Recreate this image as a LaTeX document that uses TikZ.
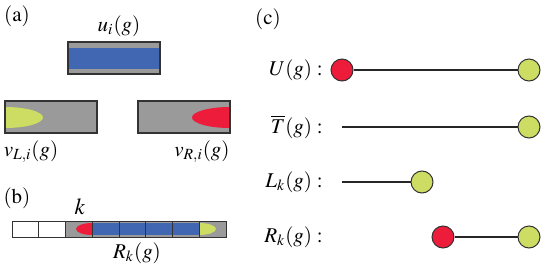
\documentclass[tikz,border=0pt]{standalone}
\usepackage{mathptmx}
\definecolor{cellgray}{HTML}{9A9A9A}
\definecolor{bandblue}{HTML}{4267B2}
\definecolor{endred}{HTML}{EC1C3A}
\definecolor{endgreen}{HTML}{CDDC63}
\definecolor{edgedark}{HTML}{333333}

\begin{document}
\begin{tikzpicture}[x=0.5pt,y=-0.5pt, font=\fontsize{10.5}{12}\selectfont,
  frame/.style={draw=edgedark, line width=0.65pt},
  dot/.style={circle, draw=edgedark, line width=0.5pt, minimum size=11pt, inner sep=0pt},
  link/.style={draw=black!85, line width=0.6pt},
  piece/.style={anchor=east, inner xsep=0pt}]
  \useasboundingbox (0,0) rectangle (545,273);

  % (a) the three tensors
  \node (la) at (17,16) {$(\mathrm{a})$};
  \node (ui) at (119,26) {$u_i(g)$};
  \fill[cellgray] (68,42) rectangle (160,74);
  \fill[bandblue] (68,48) rectangle (160,69);
  \draw[frame] (68,42) rectangle (160,74);

  \fill[cellgray] (5,101) rectangle (97,133);
  \begin{scope}
    \clip (5,101) rectangle (97,133);
    \fill[endgreen] (5,117.5) ellipse (38 and 10.5);
  \end{scope}
  \draw[frame] (5,101) rectangle (97,133);
  \node (vl) at (31,152) {$v_{L,i}(g)$};

  \fill[cellgray] (138,101) rectangle (230,133);
  \begin{scope}
    \clip (138,101) rectangle (230,133);
    \fill[endred] (230,117.5) ellipse (38 and 10.5);
  \end{scope}
  \draw[frame] (138,101) rectangle (230,133);
  \node (vr) at (202,152) {$v_{R,i}(g)$};

  % (b) the chain
  \node (lb) at (17,198) {$(\mathrm{b})$};
  \node[font=\fontsize{11.5}{13}\selectfont] (kk) at (80,207) {$k$};
  \fill[cellgray] (65.5,221) rectangle (226,237);
  \fill[bandblue] (92,223) rectangle (199,235);
  \begin{scope}
    \clip (65.5,221) rectangle (92,237);
    \fill[endred] (92,229) ellipse (16 and 6);
  \end{scope}
  \begin{scope}
    \clip (199,221) rectangle (226,237);
    \fill[endgreen] (199,229) ellipse (17 and 6);
  \end{scope}
  \foreach \i in {1,...,7}
    \draw[edgedark, line width=0.4pt] ({12+26.75*\i},221) -- ({12+26.75*\i},237);
  \draw[frame, line width=0.5pt] (12,221) rectangle (226,237);
  \node (rk) at (137,253) {$R_k(g)$};

  % (c) the four pieces
  \node (lc) at (268,19) {$(\mathrm{c})$};

  \node[piece] (ulab) at (323,70) {$U(g)\;{:}$};
  \node[dot, fill=endred] (ua) at (342,70) {};
  \node[dot, fill=endgreen] (ub) at (529,70) {};
  \draw[link] (ua) -- (ub);

  \node[piece] (tlab) at (323,127) {$\overline{T}(g)\;{:}$};
  \coordinate (ta) at (342,127);
  \node[dot, fill=endgreen] (tb) at (529,127) {};
  \draw[link] (ta) -- (tb);

  \node[piece] (llab) at (323,182) {$L_k(g)\;{:}$};
  \coordinate (la2) at (342,182);
  \node[dot, fill=endgreen] (lb2) at (422,182) {};
  \draw[link] (la2) -- (lb2);

  \node[piece] (rlab) at (323,237) {$R_k(g)\;{:}$};
  \node[dot, fill=endred] (ra) at (443,237) {};
  \node[dot, fill=endgreen] (rb) at (529,237) {};
  \draw[link] (ra) -- (rb);
\end{tikzpicture}
\end{document}
